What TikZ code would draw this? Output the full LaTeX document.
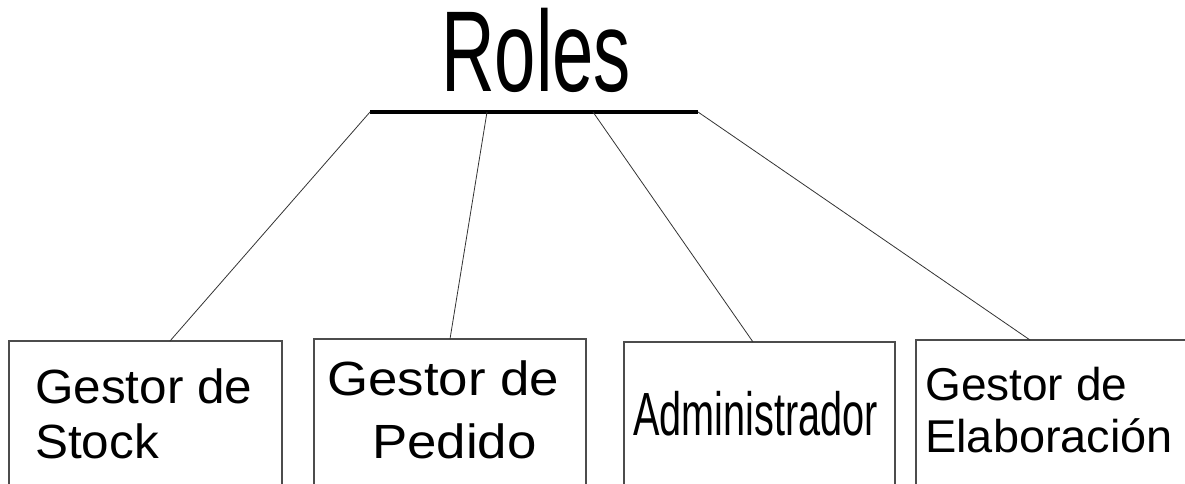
\documentclass[tikz,border=0pt]{standalone}
\usepackage{fontspec}
\setmainfont{Liberation Sans}
\begin{document}
\begin{tikzpicture}[x=1pt,y=-1pt,
  boxst/.style={draw=black!70,line width=1.3pt},
  lnk/.style={draw=black!80,line width=0.8pt},
  txt/.style={inner sep=0pt,anchor=base west}]
\useasboundingbox (0,0) rectangle (1185,484);
\clip (0,0) rectangle (1185,484);
% title
\node[txt] (title) at (441,92) {\fontsize{115}{115}\selectfont\scalebox{0.646}[1]{Roles}};
\coordinate (barL) at (370,112);
\coordinate (barR) at (698,112);
\draw[line width=4.5pt] (barL) -- (barR);
\coordinate (c2) at (487,112);
\coordinate (c3) at (593,112);
% boxes
\draw[boxst] (9,495) |- (282,341) -- (282,495);
\draw[boxst] (314,495) |- (586,339) -- (586,495);
\draw[boxst] (624,495) |- (895,342) -- (895,495);
\draw[boxst] (916,495) |- (1195,340);
\coordinate (t1) at (170,341);
\coordinate (t2) at (450,339);
\coordinate (t3) at (753,342);
\coordinate (t4) at (1030,340);
\draw[lnk] (barL) -- (t1);
\draw[lnk] (c2) -- (t2);
\draw[lnk] (c3) -- (t3);
\draw[lnk] (barR) -- (t4);
% texts
\node[txt] (s1) at (35,403) {\fontsize{48}{48}\selectfont\scalebox{1.03}[1]{Gestor de}};
\node[txt] (s2) at (35,458) {\fontsize{48}{48}\selectfont\scalebox{1.03}[1]{Stock}};
\node[txt] (p1) at (327,395) {\fontsize{48}{48}\selectfont\scalebox{1.1}[1]{Gestor de}};
\node[txt] (p2) at (372,458) {\fontsize{48}{48}\selectfont\scalebox{1.1}[1]{Pedido}};
\node[txt] (a1) at (633,435) {\fontsize{61}{61}\selectfont\scalebox{0.65}[1]{Administrador}};
\node[txt] (e1) at (925,400) {\fontsize{46}{46}\selectfont Gestor de};
\node[txt] (e2) at (925,452) {\fontsize{46}{46}\selectfont\scalebox{1.02}[1]{Elaboración}};
\end{tikzpicture}
\end{document}
